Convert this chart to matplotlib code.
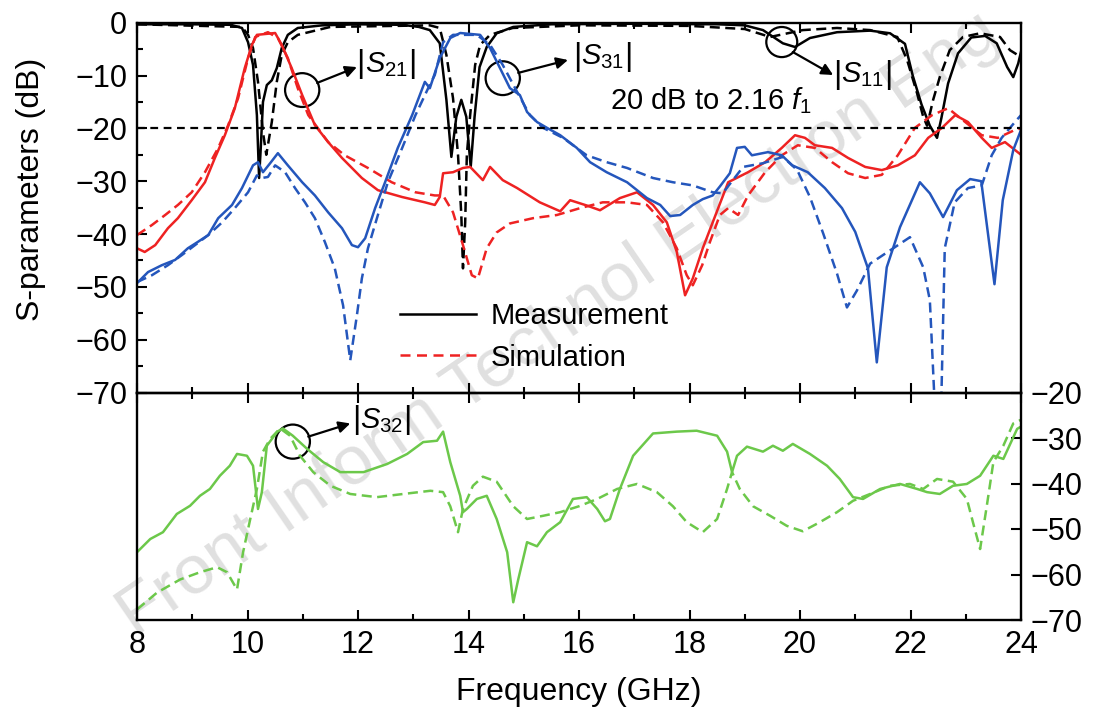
import matplotlib
matplotlib.use("Agg")
import matplotlib.pyplot as plt
from matplotlib.patches import Ellipse
from matplotlib.lines import Line2D
from matplotlib.ticker import MultipleLocator

plt.rcParams['font.family'] = ['Liberation Sans', 'DejaVu Sans']
plt.rcParams['mathtext.fontset'] = 'custom'
plt.rcParams['mathtext.rm'] = 'Liberation Sans'
plt.rcParams['mathtext.it'] = 'Liberation Sans:italic'
plt.rcParams['axes.unicode_minus'] = True

# ---------------- data (GHz, dB) ----------------
s11_meas_f = [8, 9, 9.7, 9.9, 10.01, 10.1, 10.17, 10.21, 10.24, 10.28, 10.35, 10.44, 10.53, 10.62,
              10.73, 10.91, 11.35, 12, 12.8, 13.1, 13.3, 13.48, 13.6, 13.69, 13.78, 13.87, 13.96,
              14.04, 14.11, 14.2, 14.33, 14.51, 14.81, 15.5, 17, 18.5, 19.0, 19.33, 19.69, 19.91,
              20.18, 20.67, 21.27, 21.63, 21.9, 22.04, 22.2, 22.35, 22.48, 22.56, 22.68, 22.86,
              23.1, 23.35, 23.56, 23.75, 23.86, 23.95, 24]
s11_meas_v = [-0.3, -0.3, -0.4, -1, -3.7, -8, -17.5, -29.4, -23.7, -15, -11.8, -10.9, -8.6, -4.8,
              -2.3, -1, -0.5, -0.3, -0.4, -0.8, -1.4, -3.9, -14.6, -25.4, -17.8, -14.6, -17.8,
              -27.3, -17.8, -8.4, -4.6, -2, -0.8, -0.3, -0.2, -0.3, -0.5, -1.4, -3.9, -4.6,
              -2.9, -1.8, -1.5, -2, -4, -10, -15.5, -19.5, -21.8, -18, -11.5, -5.8,
              -2.8, -2.5, -3.9, -8.4, -10.3, -7.7, -5.5]

s11_sim_f = [8, 9.9, 10.01, 10.1, 10.19, 10.28, 10.34, 10.44, 10.53, 10.62, 10.73, 10.91, 11.5,
             13.3, 13.48, 13.6, 13.72, 13.81, 13.87, 13.9, 13.94, 13.97, 14.03, 14.12, 14.21,
             14.39, 14.8, 16, 18, 19, 19.46, 20.05, 20.67, 21.27, 21.76, 21.94, 22.12, 22.23,
             22.3, 22.41, 22.53, 22.71, 22.95, 23.26, 23.62, 23.8, 24]
s11_sim_v = [-0.3, -0.8, -2.3, -4.8, -11.2, -20.7, -25, -18.8, -11.2, -6.1, -3.7, -2.3, -0.8,
             -0.5, -1, -6.1, -14.3, -25, -36.4, -46.5, -37.8, -25, -17.5, -8, -4.2,
             -2.3, -1, -0.5, -0.6, -1.2, -2.7, -1.4, -1, -1.4, -2.7, -7.1, -13.4, -17.8,
             -19.5, -14.6, -10.3, -5.2, -2.7, -2, -2.7, -5.2, -6.5]

s21_meas_f = [8, 8.14, 8.33, 8.56, 8.74, 8.99, 9.23, 9.41, 9.59, 9.77, 9.95, 10.08, 10.17, 10.5,
              10.62, 10.8, 10.99, 11.22, 11.46, 11.71, 12.07, 12.36, 12.8, 13.21, 13.39, 13.48,
              13.54, 13.72, 13.9, 14.03, 14.26, 14.39, 14.62, 14.88, 15.29, 15.66, 15.84, 16.14,
              16.38, 16.74, 17.05, 17.34, 17.59, 17.77, 17.92, 18.06, 18.24, 18.42, 18.7, 19.06,
              19.37, 19.67, 19.91, 20.09, 20.27, 20.58, 20.87, 21.18, 21.48, 21.77, 22.08, 22.32,
              22.57, 22.81, 23.04, 23.29, 23.47, 23.71, 24]
s21_meas_v = [-42.7, -43.4, -42.1, -38.9, -37, -33.6, -30.2, -25.6, -21.3, -16.2, -8.6, -4.2, -2.3, -1.95,
              -4.2, -8.6, -13.7, -19.4, -22.6, -25.6, -29.4, -31.7, -33, -34, -34.5, -33,
              -28.5, -28.3, -27.5, -27.3, -29.8, -27.3, -29.8, -31.3, -34, -35.7, -33.6, -34.6,
              -35.5, -33.2, -32.1, -34.5, -37.8, -43.4, -51.6, -48.4, -42.7, -37.8, -30.2, -28.3,
              -26.4, -23.7, -21.3, -21.8, -23.2, -23.7, -25.6, -27.3, -27.9, -27, -25.1, -21.8,
              -19.9, -17.5, -18.8, -21.8, -23.7, -22.6, -25]

s21_sim_f = [8, 8.27, 8.51, 8.74, 8.99, 9.23, 9.47, 9.65, 9.83, 10.01, 10.14, 10.37, 10.55, 10.73,
             10.91, 11.1, 11.46, 11.76, 12.18, 12.61, 13.04, 13.39, 13.54, 13.72, 13.9, 14.06,
             14.17, 14.33, 14.51, 14.75, 15.17, 15.6, 16.02, 16.43, 16.87, 17.23, 17.52, 17.77,
             17.95, 18.06, 18.23, 18.37, 18.55, 18.7, 18.88, 19.06, 19.37, 19.67, 19.96, 20.27,
             20.58, 20.87, 21.18, 21.48, 21.77, 22.08, 22.39, 22.68, 22.99, 23.29, 23.58, 23.89, 24]
s21_sim_v = [-40.2, -38.3, -36.4, -34.5, -32.1, -28.3, -23.7, -19.4, -14.3, -6.7, -2.7, -1.8, -2.9, -6.7,
             -12.4, -17.5, -22.6, -25.1, -27.5, -30.2, -32.1, -32.7, -32.7, -35.9, -42.1, -47.8,
             -48.4, -42.7, -39.7, -38, -37, -36.4, -35.1, -34, -34, -34.5, -37.8, -42.7,
             -47.8, -49.7, -45.9, -41.5, -36.4, -35.1, -36.4, -32.7, -28.3, -25.1, -23.2, -23.7,
             -26.4, -28.5, -29.4, -28.8, -25.1, -19.9, -17.5, -16.2, -18.8, -21.3, -21.8, -20.3, -20]

s31_meas_f = [8, 8.2, 8.45, 8.69, 8.92, 9.1, 9.29, 9.47, 9.72, 9.9, 10.1, 10.19, 10.28, 10.41, 10.55,
              10.73, 10.99, 11.22, 11.46, 11.71, 11.89, 12, 12.13, 12.31, 12.49, 12.72, 12.98,
              13.21, 13.3, 13.48, 13.67, 13.85, 14.21, 14.39, 14.57, 14.75, 14.93, 15.06, 15.24,
              15.42, 15.66, 15.96, 16.2, 16.5, 16.87, 17.23, 17.47, 17.65, 17.83, 18.06, 18.24,
              18.42, 18.55, 18.73, 18.86, 19.0, 19.13, 19.42, 19.67, 19.86, 20.14, 20.45, 20.76,
              21.0, 21.23, 21.39, 21.57, 21.81, 22.17, 22.35, 22.59, 22.84, 23.08, 23.28, 23.52,
              23.67, 23.86, 24]
s31_meas_v = [-49.3, -47.2, -45.9, -44.9, -42.7, -41.5, -40.2, -37, -34.5, -31.3, -27, -26.4, -28.3, -26.6, -24.7,
              -27, -30.2, -32.7, -35.9, -38.9, -42.1, -42.5, -40.8, -35.1, -30.2, -23.7, -17.5,
              -11.2, -12.4, -6.7, -2.9, -1.95, -2.3, -4.8, -8.6, -12.4, -13.7, -16.9, -18.8,
              -19.9, -21.3, -23.7, -26.4, -28.3, -30.2, -33.2, -34.5, -36.6, -36.4, -34.5, -33.4,
              -32.7, -31, -28.5, -23.7, -23.5, -25.1, -24.5, -25.1, -27, -28.3, -31.3, -35.1,
              -39.6, -46.5, -64.3, -46.3, -38.7, -30.2, -32.3, -36.8, -31.7, -29.6, -30, -49.5,
              -33.6, -24.1, -20.3]

s31_sim_f = [8, 8.27, 8.56, 8.81, 9.05, 9.29, 9.54, 9.77, 10.01, 10.17, 10.26, 10.37, 10.5, 10.68,
             10.86, 11.04, 11.22, 11.4, 11.58, 11.73, 11.86, 11.98, 12.07, 12.18, 12.36, 12.54,
             12.8, 13.04, 13.27, 13.39, 13.54, 13.72, 14.15, 14.39, 14.62, 14.88, 15.11, 15.35,
             15.71, 16.14, 16.5, 16.87, 17.34, 17.7, 18.06, 18.42, 18.6, 18.97, 19.33, 19.69,
             19.95, 20.18, 20.42, 20.67, 20.85, 21.03, 21.27, 21.63, 21.99, 22.23, 22.35, 22.45,
             22.55, 22.62, 22.8, 23.04, 23.29, 23.47, 23.65, 23.89, 24]
s31_sim_v = [-49.1, -47.8, -45.9, -44, -42.1, -40.2, -37.8, -35.1, -32.1, -28.9, -29.4, -29.2, -27, -28.3,
             -31.3, -34, -37, -41.5, -46.5, -53.5, -63.9, -55.4, -48.4, -42.7, -36.4, -30.2,
             -23.7, -17.5, -12.4, -9.9, -3.7, -2.3, -2.3, -4.2, -8, -13.1, -17.5, -19.9,
             -21.8, -25.1, -26.4, -27.5, -29.4, -30.2, -30.8, -32.1, -32.3, -27.3, -26.6, -25.4,
             -27.9, -33, -39.9, -47.5, -53.9, -50.7, -45.6, -43.1, -40.6, -46.3, -52.5, -75,
             -75, -42.7, -34, -31.3, -30.8, -25.1, -21.8, -18.8, -17.5]

s32_meas_f = [8, 8.24, 8.47, 8.72, 8.96, 9.14, 9.32, 9.5, 9.68, 9.81, 9.99, 10.1, 10.19, 10.26,
              10.35, 10.54, 10.64, 10.82, 11.08, 11.37, 11.68, 12.1, 12.53, 12.89, 13.18, 13.43,
              13.54, 13.67, 13.85, 13.9, 13.97, 14.15, 14.33, 14.51, 14.7, 14.81, 14.9, 15.06,
              15.24, 15.42, 15.66, 15.89, 16.14, 16.33, 16.47, 16.56, 16.74, 16.98, 17.34, 17.77,
              18.13, 18.5, 18.68, 18.77, 18.86, 19.04, 19.33, 19.51, 19.69, 19.87, 20.18, 20.49,
              20.72, 20.96, 21.14, 21.45, 21.81, 22.12, 22.3, 22.53, 22.77, 23.02, 23.26, 23.5,
              23.68, 23.93, 24]
s32_meas_v = [-55.1, -52.2, -50.7, -46.7, -44.9, -42.7, -41.2, -38.3, -36.1, -33.5, -33.9, -36.1, -45.6, -41.9,
              -31.7, -28.6, -27.9, -29.5, -32.4, -35.3, -37.5, -37.5, -35.7, -33.5, -30.9, -30.6,
              -28.6, -35.3, -42.7, -46.3, -45.6, -43.4, -42.7, -47.8, -55.1, -66.1, -61.1, -52.9,
              -53.8, -50.7, -48.5, -43.4, -43, -45.6, -48.3, -47.8, -41.2, -33.9, -29, -28.6,
              -28.4, -29.5, -33, -37.5, -33.9, -31.9, -33, -31.7, -32.8, -31.3, -33.5, -36.1,
              -39, -43, -43.4, -41.2, -40.1, -41.2, -41.9, -42.3, -40.5, -40.1, -38.3, -33.9,
              -34.6, -28, -27.5]

s32_sim_f = [8, 8.36, 8.78, 9.14, 9.45, 9.63, 9.81, 9.92, 10.05, 10.17, 10.28, 10.41, 10.59, 10.77,
             10.95, 11.19, 11.5, 11.86, 12.34, 12.82, 13.31, 13.54, 13.67, 13.81, 13.9, 14.08,
             14.26, 14.51, 14.81, 15.06, 15.35, 15.66, 16.0, 16.33, 16.69, 17.05, 17.41, 17.7,
             17.95, 18.24, 18.5, 18.68, 18.77, 18.91, 19.15, 19.46, 19.76, 20.05, 20.36, 20.67,
             20.96, 21.27, 21.63, 21.99, 22.23, 22.48, 22.77, 23.02, 23.13, 23.26, 23.38, 23.5,
             23.68, 23.86, 24]
s32_sim_v = [-67.7, -64, -61.1, -59.5, -58.4, -59.5, -63.3, -55.1, -47.8, -41.2, -33, -30.2, -27.9, -29.5,
             -33.9, -37.5, -40.5, -42.3, -43, -42.3, -41.6, -41.9, -45, -50.7, -45.6, -40.5,
             -38.5, -39.6, -45, -47.8, -47.1, -46.3, -45, -43.4, -41.2, -40.1, -41.9, -45,
             -48.5, -50.7, -47.8, -41.2, -37.5, -41.2, -45, -47.1, -49.3, -50.5, -48.5, -46.3,
             -43.8, -42.3, -40.5, -40.1, -41.2, -39, -39.6, -43.4, -48.5, -54.4, -45, -35.3,
             -31.7, -26.8, -26]

# ---------------- style ----------------
RED = '#EE2222'
BLUE = '#2456BC'
GREEN = '#6CC84A'
LW = 1.8
DASH = (0, (4.0, 2.2))

W, H = 1099, 714
fig = plt.figure(figsize=(W / 100, H / 100), dpi=100)

L, R = 137, 1021
ax1 = fig.add_axes([L / W, 1 - 392.5 / H, (R - L) / W, (392.5 - 22.7) / H])
ax2 = fig.add_axes([L / W, 1 - 620 / H, (R - L) / W, (620 - 392.5) / H])
for ax in (ax1, ax2):
    ax.set_facecolor('none')
    for s in ax.spines.values():
        s.set_linewidth(1.7)
    ax.set_xlim(8, 24)
    ax.xaxis.set_major_locator(MultipleLocator(2))
    ax.xaxis.set_minor_locator(MultipleLocator(1))

# watermark (behind axes)
fig.text(0.508, 0.545, 'Front Inform Technol Electron Eng', rotation=34.5,
         ha='center', va='center', fontsize=50, color='#e0e0e0', zorder=-1)


def s_label(ax, x, y, sub):
    for dx in (-18.5, 18.5):
        ax.annotate('|', (x, y), xytext=(dx, 0), textcoords='offset points',
                    ha='center', va='center', fontsize=23)
    ax.text(x, y, r'$S_{\mathrm{%s}}$' % sub, ha='center', va='center', fontsize=21)


# ---- top panel ----
ax1.plot(s11_meas_f, s11_meas_v, color='k', lw=LW)
ax1.plot(s11_sim_f, s11_sim_v, color='k', lw=LW, ls=DASH)
ax1.plot(s21_meas_f, s21_meas_v, color=RED, lw=LW)
ax1.plot(s21_sim_f, s21_sim_v, color=RED, lw=LW, ls=DASH)
ax1.plot(s31_meas_f, s31_meas_v, color=BLUE, lw=LW)
ax1.plot(s31_sim_f, s31_sim_v, color=BLUE, lw=LW, ls=DASH)
ax1.axhline(-20, color='k', lw=1.6, ls=(0, (3.5, 2.5)))
ax1.set_ylim(-70, 0)
ax1.yaxis.set_major_locator(MultipleLocator(10))
ax1.yaxis.set_minor_locator(MultipleLocator(5))
ax1.tick_params(which='both', direction='in', top=True, bottom=True, left=True, right=False,
                labelbottom=False, labelsize=22, pad=7)
ax1.tick_params(which='major', length=7, width=1.5)
ax1.tick_params(which='minor', length=4, width=1.5)
ax1.set_ylabel('S-parameters (dB)', fontsize=23)
ax1.yaxis.set_label_coords(-0.103, 0.55)

handles = [Line2D([], [], color='k', lw=LW), Line2D([], [], color=RED, lw=LW, ls=(0, (4.0, 2.6)))]
ax1.legend(handles, ['Measurement', 'Simulation'], loc='center left',
           bbox_to_anchor=(400 / W, 1 - 337 / H), bbox_transform=fig.transFigure,
           frameon=False, fontsize=21, handlelength=2.6, handletextpad=0.5,
           labelspacing=0.45, borderpad=0, borderaxespad=0)

ann_kw = dict(arrowprops=dict(arrowstyle='-|>', color='k', lw=1.6, mutation_scale=17,
                              shrinkA=0, shrinkB=0))
# |S21|
ax1.add_patch(Ellipse((10.99, -12.75), 0.62, 6.4, fill=False, lw=1.6, ec='k'))
ax1.annotate('', xy=(11.98, -8.4), xytext=(11.26, -11.4), **ann_kw)
s_label(ax1, 12.51, -7.9, '21')
# |S31|
ax1.add_patch(Ellipse((14.62, -10.5), 0.62, 6.4, fill=False, lw=1.6, ec='k'))
ax1.annotate('', xy=(15.8, -7.06), xytext=(14.9, -9.5), **ann_kw)
s_label(ax1, 16.43, -6.4, '31')
# |S11|
ax1.add_patch(Ellipse((19.67, -3.66), 0.56, 5.7, fill=False, lw=1.6, ec='k'))
ax1.annotate('', xy=(20.6, -9.9), xytext=(19.87, -5.55), **ann_kw)
s_label(ax1, 21.14, -9.9, '11')
# 20 dB text
ax1.text(18.39, -14.8, r'20 dB to 2.16 $f_{\mathrm{1}}$', fontsize=21, ha='center', va='center')

# ---- bottom panel ----
ax2.plot(s32_meas_f, s32_meas_v, color=GREEN, lw=LW)
ax2.plot(s32_sim_f, s32_sim_v, color=GREEN, lw=LW, ls=DASH)
ax2.set_ylim(-70, -20)
ax2.yaxis.set_major_locator(MultipleLocator(10))
ax2.yaxis.tick_right()
ax2.tick_params(which='both', direction='in', top=True, bottom=True, left=False, right=True,
                labelsize=22, pad=7)
ax2.tick_params(which='major', length=7, width=1.5)
ax2.tick_params(which='minor', length=4, width=1.5)
ax2.tick_params(axis='y', which='minor', right=False)
ax2.set_xlabel('Frequency (GHz)', fontsize=23)
ax2.xaxis.set_label_coords(0.5, -0.25)

ax2.add_patch(Ellipse((10.82, -30.8), 0.62, 7.5, fill=False, lw=1.6, ec='k'))
ax2.annotate('', xy=(11.86, -26.8), xytext=(11.1, -29.7), **ann_kw)
s_label(ax2, 12.43, -26.1, '32')

fig.savefig('out.png', dpi=100)
